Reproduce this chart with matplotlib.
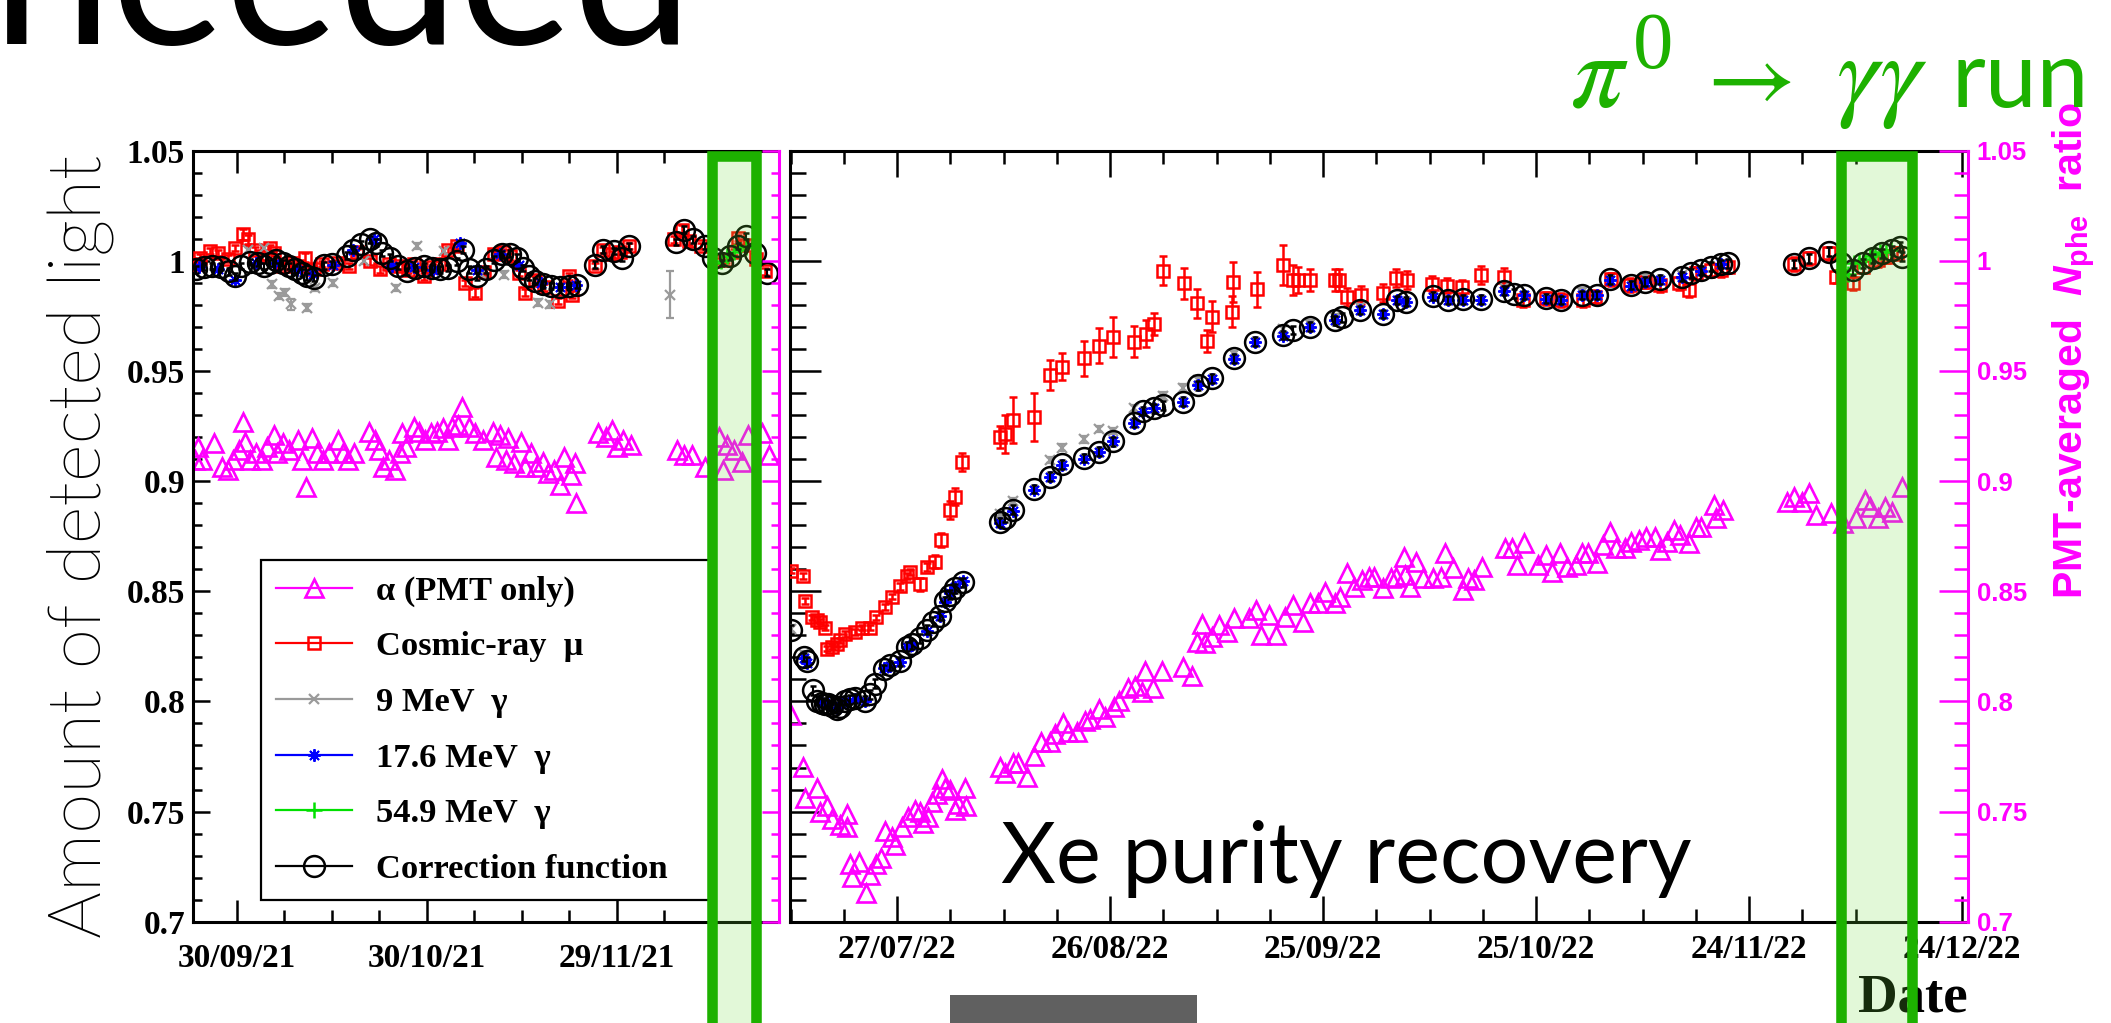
import datetime as dt
import os

import matplotlib
matplotlib.use("Agg")
import matplotlib.pyplot as plt
import matplotlib.transforms as mtransforms
import numpy as np
from matplotlib import font_manager
from matplotlib.font_manager import FontProperties
from matplotlib.lines import Line2D
from matplotlib.patches import Rectangle
from matplotlib.ticker import FuncFormatter, MultipleLocator

plt.rcParams['font.family'] = ['Liberation Serif', 'DejaVu Serif']
plt.rcParams['mathtext.rm'] = 'Liberation Sans:bold'
plt.rcParams['mathtext.it'] = 'Liberation Sans:italic:bold'
plt.rcParams['mathtext.bf'] = 'Liberation Sans:bold'

MAGENTA = '#ff00ff'
RED = '#ff0000'
GRAY = '#9a9a9a'
BLUE = '#0000ff'
LIME = '#00e000'
BAND_GREEN = '#1db100'

# reference dates, x values below are days counted from these
REF_2021 = dt.date(2021, 9, 30)
REF_2022 = dt.date(2022, 7, 27)
XLIM_2021 = (-7.0, 85.7)
XLIM_2022 = (-15.1, 150.8)

# pi0 -> gamma gamma run periods
band_2021 = (dt.date(2021, 12, 14), dt.date(2021, 12, 21))
band_2022 = (dt.date(2022, 12, 7), dt.date(2022, 12, 17))

# ---------------- 2021 run ----------------
alpha_2021 = [(-6.6, 0.9096), (-6.2, 0.9157), (-5.5, 0.9096), (-3.7, 0.9172), (-2.4, 0.9066), (-1.5, 0.9051),
              (-0.6, 0.9096), (0.3, 0.9141), (0.9, 0.9270), (1.2, 0.9179), (2.1, 0.9096), (3.0, 0.9126),
              (3.9, 0.9096), (4.8, 0.9157), (5.8, 0.9209), (6.4, 0.9126), (7.3, 0.9172), (8.2, 0.9141),
              (9.7, 0.9187), (10.3, 0.9096), (10.9, 0.8975), (11.8, 0.9194), (12.7, 0.9126), (13.6, 0.9096),
              (14.6, 0.9126), (16.0, 0.9187), (16.7, 0.9126), (17.6, 0.9096), (18.5, 0.9126), (20.9, 0.9225),
              (21.8, 0.9187), (22.5, 0.9141), (23.1, 0.9066), (24.0, 0.9096), (24.9, 0.9051), (25.8, 0.9126),
              (26.1, 0.9217), (26.7, 0.9157), (27.9, 0.9247), (28.8, 0.9225), (29.7, 0.9187), (30.7, 0.9217),
              (31.6, 0.9225), (32.5, 0.9240), (33.4, 0.9187), (34.0, 0.9247), (34.9, 0.9255), (35.6, 0.9338),
              (36.7, 0.9247), (37.6, 0.9217), (38.8, 0.9187), (40.4, 0.9225), (41.0, 0.9111), (41.6, 0.9209),
              (42.5, 0.9096), (42.8, 0.9194), (43.7, 0.9081), (44.9, 0.9179), (45.5, 0.9066), (46.4, 0.9126),
              (47.3, 0.9066), (48.3, 0.9088), (49.2, 0.9035), (50.1, 0.9051), (51.0, 0.8982), (51.6, 0.9111),
              (52.8, 0.9028), (53.4, 0.9081), (53.5, 0.8899), (57.1, 0.9217), (58.3, 0.9202), (59.2, 0.9232),
              (60.1, 0.9157), (61.0, 0.9187), (62.2, 0.9164), (69.5, 0.9141), (70.7, 0.9119), (71.9, 0.9119),
              (74.0, 0.9066), (76.2, 0.9202), (76.8, 0.9051), (77.4, 0.9164), (78.6, 0.9141), (79.8, 0.9088),
              (80.7, 0.9209), (82.9, 0.9217), (84.1, 0.9119)]

# (day, value, error)
mu_2021 = [(-6.5, 0.9985, 0.0015), (-5.9, 1.0014, 0.0015), (-4.2, 1.0044, 0.0015), (-3.0, 1.0035, 0.0015),
           (-1.5, 1.0010, 0.0015), (-0.3, 1.0059, 0.0015), (1.0, 1.0120, 0.0025), (1.7, 1.0097, 0.0020),
           (2.9, 1.0050, 0.0015), (4.0, 1.0020, 0.0015), (5.2, 1.0059, 0.0015), (5.9, 1.0036, 0.0015),
           (7.2, 0.9976, 0.0015), (8.5, 0.9990, 0.0015), (9.5, 0.9975, 0.0015), (10.8, 1.0014, 0.0020),
           (12.1, 0.9961, 0.0015), (13.5, 0.9985, 0.0015), (16.0, 0.9990, 0.0015), (17.7, 0.9976, 0.0015),
           (19.0, 1.0040, 0.0015), (21.0, 0.9998, 0.0015), (22.6, 0.9961, 0.0015), (24.0, 0.9985, 0.0015),
           (25.5, 0.9975, 0.0015), (27.0, 0.9960, 0.0015), (28.0, 0.9985, 0.0015), (29.5, 0.9930, 0.0015),
           (31.0, 0.9970, 0.0015), (32.0, 0.9985, 0.0015), (33.4, 1.0050, 0.0015), (34.7, 1.0067, 0.0015),
           (36.0, 0.9900, 0.0015), (37.6, 0.9855, 0.0020), (39.0, 0.9950, 0.0015), (40.6, 1.0029, 0.0015),
           (42.0, 1.0040, 0.0015), (43.2, 1.0021, 0.0015), (44.5, 0.9945, 0.0015), (45.5, 0.9855, 0.0015),
           (47.1, 0.9915, 0.0015), (48.5, 0.9880, 0.0015), (50.7, 0.9817, 0.0015), (52.4, 0.9930, 0.0015),
           (53.0, 0.9847, 0.0015), (56.6, 0.9976, 0.0015), (57.9, 1.0050, 0.0015), (59.2, 1.0029, 0.0015),
           (60.5, 1.0040, 0.0015), (61.9, 1.0067, 0.0015), (69.1, 1.0097, 0.0015), (70.4, 1.0142, 0.0020),
           (71.4, 1.0089, 0.0015), (73.3, 1.0067, 0.0015), (75.5, 1.0000, 0.0015), (77.2, 1.0006, 0.0015),
           (78.5, 1.0040, 0.0015), (79.2, 1.0104, 0.0015), (80.5, 1.0074, 0.0015), (82.0, 1.0010, 0.0015),
           (83.5, 0.9953, 0.0015)]

gamma9_2021 = [(1.7, 1.0050, 0.0015), (4.3, 1.0059, 0.0015), (5.6, 0.9893, 0.0015), (6.6, 0.9840, 0.0015),
               (7.6, 0.9855, 0.0015), (8.5, 0.9802, 0.0025), (11.1, 0.9787, 0.0015), (12.4, 0.9877, 0.0015),
               (15.1, 0.9900, 0.0015), (20.0, 1.0000, 0.0015), (25.2, 0.9877, 0.0015), (28.5, 1.0067, 0.0015),
               (32.7, 1.0044, 0.0015), (38.5, 0.9940, 0.0015), (42.2, 0.9938, 0.0015), (47.5, 0.9810, 0.0015),
               (49.4, 0.9802, 0.0015), (68.4, 0.9847, 0.0105)]

gamma17_2021 = [(-6.0, 0.9970), (-3.0, 0.9965), (-0.3, 0.9915), (3.0, 0.9990), (6.0, 0.9990), (9.5, 0.9960),
                (12.0, 0.9940), (15.1, 0.9980), (18.3, 1.0050), (21.6, 1.0097), (24.5, 0.9975), (28.0, 0.9970),
                (31.0, 0.9960), (35.3, 1.0082), (38.0, 0.9960), (41.5, 1.0030), (44.5, 0.9980), (48.0, 0.9900),
                (51.0, 0.9880), (53.5, 0.9890)]

gamma55_2021 = [(75.5, 0.9990), (76.5, 1.0000), (77.5, 1.0020), (78.5, 1.0040), (79.5, 1.0050), (80.5, 1.0065)]

corr_2021 = [(-6.5, 0.9961), (-5.2, 0.9973), (-3.9, 0.9976), (-2.6, 0.9973), (-1.3, 0.9953), (-0.3, 0.9930),
             (0.7, 0.9976), (2.0, 0.9994), (3.3, 0.9991), (4.3, 0.9976), (5.2, 0.9991), (6.2, 1.0003),
             (7.2, 0.9991), (8.2, 0.9976), (9.2, 0.9961), (10.2, 0.9946), (11.1, 0.9930), (12.1, 0.9923),
             (13.7, 0.9979), (15.0, 0.9985), (17.4, 1.0024), (18.3, 1.0051), (19.6, 1.0075), (21.0, 1.0097),
             (22.0, 1.0082), (22.9, 1.0036), (24.2, 1.0014), (25.5, 0.9976), (26.8, 0.9953), (28.1, 0.9968),
             (29.5, 0.9976), (30.8, 0.9968), (32.1, 0.9961), (33.4, 0.9968), (34.7, 0.9998), (35.7, 1.0051),
             (36.6, 0.9961), (38.0, 0.9930), (39.3, 0.9961), (40.6, 1.0006), (41.9, 1.0029), (43.2, 1.0033),
             (44.2, 1.0014), (45.2, 0.9968), (46.2, 0.9930), (47.1, 0.9908), (48.4, 0.9893), (49.7, 0.9885),
             (51.0, 0.9882), (52.4, 0.9885), (53.7, 0.9890), (56.6, 0.9983), (57.9, 1.0051), (59.6, 1.0044),
             (60.9, 1.0014), (61.9, 1.0067), (69.4, 1.0085), (70.7, 1.0142), (72.0, 1.0097), (73.9, 1.0067),
             (75.3, 1.0014), (76.6, 0.9991), (77.9, 1.0021), (79.2, 1.0067), (80.5, 1.0112), (81.8, 1.0036),
             (83.8, 0.9946)]
corr_err_2021 = 0.0015

# ---------------- 2022 run ----------------
alpha_2022 = [(-14.9, 0.7939), (-13.2, 0.7703), (-12.9, 0.7562), (-11.3, 0.7609), (-10.8, 0.7496), (-9.9, 0.7525),
              (-9.2, 0.7468), (-8.0, 0.7440), (-7.1, 0.7487), (-7.0, 0.7431), (-6.6, 0.7261), (-6.4, 0.7205),
              (-5.4, 0.7271), (-4.3, 0.7130), (-3.8, 0.7214), (-2.9, 0.7261), (-2.2, 0.7289), (-1.7, 0.7412),
              (-0.75, 0.7383), (-0.3, 0.7346), (0.7, 0.7431), (1.6, 0.7477), (2.5, 0.7506), (3.2, 0.7496),
              (3.7, 0.7449), (4.4, 0.7477), (4.9, 0.7543), (5.6, 0.7581), (6.3, 0.7647), (6.8, 0.7609),
              (7.5, 0.7600), (8.2, 0.7506), (8.6, 0.7534), (9.6, 0.7609), (9.7, 0.7525), (14.5, 0.7703),
              (15.2, 0.7675), (16.4, 0.7722), (17.1, 0.7722), (18.3, 0.7656), (19.3, 0.7750), (20.3, 0.7816),
              (21.5, 0.7816), (22.2, 0.7854), (23.4, 0.7901), (24.1, 0.7863), (25.3, 0.7863), (26.5, 0.7910),
              (27.2, 0.7920), (28.4, 0.7967), (29.3, 0.7929), (30.5, 0.7976), (31.2, 0.8004), (32.6, 0.8061),
              (33.5, 0.8070), (34.5, 0.8042), (34.9, 0.8136), (36.1, 0.8061), (37.3, 0.8136), (40.3, 0.8155),
              (41.5, 0.8117), (42.2, 0.8268), (42.9, 0.8353), (43.4, 0.8264), (44.4, 0.8294), (45.4, 0.8347),
              (46.5, 0.8317), (47.4, 0.8377), (49.6, 0.8377), (50.6, 0.8415), (51.3, 0.8301), (52.4, 0.8392),
              (53.4, 0.8301), (54.6, 0.8385), (55.8, 0.8438), (57.2, 0.8362), (58.2, 0.8445), (59.3, 0.8445),
              (60.3, 0.8498), (61.7, 0.8445), (62.4, 0.8475), (63.4, 0.8581), (64.4, 0.8521), (65.5, 0.8551),
              (66.5, 0.8566), (67.2, 0.8566), (68.4, 0.8513), (69.6, 0.8559), (70.3, 0.8566), (71.4, 0.8657),
              (71.6, 0.8574), (72.3, 0.8521), (73.1, 0.8634), (74.1, 0.8559), (75.5, 0.8559), (76.6, 0.8566),
              (77.2, 0.8672), (78.3, 0.8604), (79.7, 0.8506), (80.4, 0.8559), (81.3, 0.8551), (82.4, 0.8612),
              (85.6, 0.8695), (86.6, 0.8695), (87.3, 0.8619), (88.3, 0.8718), (90.3, 0.8619), (91.4, 0.8665),
              (92.3, 0.8589), (93.4, 0.8672), (94.4, 0.8612), (95.6, 0.8619), (96.5, 0.8672), (97.3, 0.8672),
              (98.6, 0.8627), (99.4, 0.8710), (100.4, 0.8771), (101.3, 0.8695), (102.5, 0.8695), (103.4, 0.8725),
              (104.5, 0.8733), (105.5, 0.8748), (106.7, 0.8748), (107.4, 0.8687), (108.4, 0.8725), (109.4, 0.8778),
              (110.3, 0.8755), (111.5, 0.8718), (112.5, 0.8793), (113.2, 0.8793), (115.0, 0.8892), (115.3, 0.8831),
              (116.3, 0.8869), (125.3, 0.8907), (126.4, 0.8930), (127.4, 0.8907), (128.5, 0.8945), (129.5, 0.8846),
              (131.6, 0.8854), (133.3, 0.8808), (135.0, 0.8831), (136.4, 0.8914), (137.1, 0.8884), (138.1, 0.8831),
              (139.2, 0.8884), (140.2, 0.8861), (141.6, 0.8975)]

mu_2022 = [(-14.9, 0.8594, 0.0012), (-13.2, 0.8569, 0.0012), (-12.9, 0.8456, 0.0012), (-12.0, 0.8381, 0.0012),
           (-11.3, 0.8371, 0.0012), (-10.8, 0.8362, 0.0012), (-10.2, 0.8334, 0.0012), (-9.9, 0.8240, 0.0012),
           (-9.2, 0.8249, 0.0012), (-8.5, 0.8259, 0.0012), (-8.0, 0.8277, 0.0012), (-7.3, 0.8306, 0.0012),
           (-5.9, 0.8315, 0.0012), (-5.0, 0.8334, 0.0012), (-3.8, 0.8334, 0.0012), (-2.9, 0.8381, 0.0012),
           (-1.7, 0.8428, 0.0012), (-0.75, 0.8475, 0.0012), (0.4, 0.8522, 0.0015), (1.4, 0.8569, 0.0015),
           (1.8, 0.8588, 0.0015), (3.2, 0.8531, 0.0030), (4.2, 0.8610, 0.0020), (5.4, 0.8635, 0.0030),
           (6.2, 0.8733, 0.0030), (7.4, 0.8870, 0.0040), (8.2, 0.8930, 0.0040), (9.2, 0.9087, 0.0040),
           (14.5, 0.9200, 0.0050), (15.2, 0.9213, 0.0085), (16.3, 0.9279, 0.0105), (19.3, 0.9290, 0.0110),
           (21.5, 0.9482, 0.0070), (23.3, 0.9520, 0.0060), (26.4, 0.9557, 0.0080), (28.4, 0.9614, 0.0080),
           (30.4, 0.9655, 0.0090), (33.4, 0.9632, 0.0070), (35.0, 0.9670, 0.0060), (36.2, 0.9714, 0.0050),
           (37.5, 0.9955, 0.0065), (40.4, 0.9898, 0.0070), (42.3, 0.9807, 0.0065), (43.6, 0.9636, 0.0050),
           (44.4, 0.9747, 0.0070), (47.3, 0.9905, 0.0090), (47.2, 0.9770, 0.0070), (50.7, 0.9871, 0.0080),
           (54.3, 0.9981, 0.0090), (55.8, 0.9913, 0.0070), (56.5, 0.9913, 0.0060), (58.2, 0.9913, 0.0050),
           (61.7, 0.9913, 0.0050), (62.2, 0.9913, 0.0050), (63.4, 0.9837, 0.0040), (65.3, 0.9845, 0.0040),
           (68.4, 0.9853, 0.0040), (70.3, 0.9921, 0.0040), (71.8, 0.9913, 0.0040), (75.4, 0.9896, 0.0035),
           (77.5, 0.9888, 0.0035), (79.6, 0.9880, 0.0035), (82.2, 0.9936, 0.0040), (85.5, 0.9928, 0.0040),
           (88.2, 0.9822, 0.0030), (91.4, 0.9830, 0.0030), (93.5, 0.9822, 0.0030), (96.6, 0.9822, 0.0030),
           (98.3, 0.9837, 0.0030), (100.6, 0.9916, 0.0030), (103.2, 0.9890, 0.0030), (105.3, 0.9905, 0.0030),
           (107.5, 0.9890, 0.0030), (110.1, 0.9898, 0.0030), (111.5, 0.9868, 0.0030), (112.5, 0.9943, 0.0030),
           (114.6, 0.9958, 0.0030), (116.0, 0.9958, 0.0030), (117.0, 0.9973, 0.0030), (126.4, 0.9986, 0.0030),
           (128.4, 1.0011, 0.0030), (131.2, 1.0034, 0.0030), (132.3, 0.9928, 0.0030), (134.7, 0.9898, 0.0030),
           (136.1, 0.9973, 0.0030), (138.1, 1.0004, 0.0030), (139.5, 1.0019, 0.0030), (140.9, 1.0034, 0.0030)]

gamma9_2022 = [(-14.9, 0.8330, 0.0015), (-13.1, 0.8215, 0.0015), (14.5, 0.8850, 0.0015), (16.4, 0.8908, 0.0015),
               (21.5, 0.9096, 0.0015), (23.3, 0.9152, 0.0015), (26.4, 0.9190, 0.0015), (28.4, 0.9237, 0.0015),
               (30.4, 0.9228, 0.0015), (33.4, 0.9331, 0.0015), (37.5, 0.9388, 0.0015), (40.3, 0.9425, 0.0015),
               (42.4, 0.9460, 0.0015), (47.4, 0.9575, 0.0015), (54.4, 0.9690, 0.0015), (58.2, 0.9715, 0.0015),
               (61.7, 0.9745, 0.0015), (65.2, 0.9790, 0.0015), (85.5, 0.9880, 0.0015), (96.5, 0.9860, 0.0015),
               (105.3, 0.9925, 0.0015), (110.5, 0.9935, 0.0015)]

gamma17_2022 = [(-13.1, 0.8195), (-12.7, 0.8175), (-10.6, 0.7995), (-9.7, 0.7990), (-8.5, 0.7970), (-7.3, 0.8000),
                (-5.9, 0.8010), (-4.5, 0.8000), (-1.9, 0.8150), (-1.0, 0.8160), (0.4, 0.8180), (1.4, 0.8245),
                (2.1, 0.8255), (4.2, 0.8320), (6.1, 0.8390), (6.8, 0.8450), (7.5, 0.8490), (8.2, 0.8520),
                (9.3, 0.8545), (14.5, 0.8810), (16.4, 0.8865), (19.3, 0.8960), (21.5, 0.9020), (23.3, 0.9075),
                (26.4, 0.9100), (28.4, 0.9130), (30.4, 0.9180), (33.4, 0.9262), (34.7, 0.9315), (36.2, 0.9330),
                (40.3, 0.9360), (42.4, 0.9435), (44.4, 0.9465), (47.4, 0.9555), (50.4, 0.9630), (54.4, 0.9660),
                (58.2, 0.9700), (61.7, 0.9730), (65.2, 0.9775), (68.4, 0.9757), (70.4, 0.9820), (71.7, 0.9813),
                (75.5, 0.9838), (77.6, 0.9820), (79.7, 0.9823), (82.3, 0.9823), (85.5, 0.9862), (88.3, 0.9843),
                (91.4, 0.9828), (93.5, 0.9820), (96.5, 0.9843), (98.6, 0.9843), (100.4, 0.9914), (103.4, 0.9888),
                (105.3, 0.9903), (107.4, 0.9914), (110.5, 0.9926), (113.2, 0.9956), (116.0, 0.9984)]

gamma55_2022 = [(133.3, 0.9960), (134.0, 0.9940), (134.8, 0.9990), (135.5, 1.0000), (136.3, 1.0010),
                (137.0, 1.0020), (137.8, 1.0030), (138.5, 1.0040), (139.3, 1.0040), (140.0, 1.0050)]

corr_2022 = [(-14.9, 0.8325), (-13.1, 0.8202), (-12.7, 0.8183), (-11.8, 0.8051), (-11.3, 0.8004), (-10.6, 0.7995),
             (-10.2, 0.7990), (-9.7, 0.7986), (-9.2, 0.7980), (-8.5, 0.7967), (-8.0, 0.7975), (-7.3, 0.8004),
             (-6.6, 0.8010), (-5.9, 0.8014), (-4.5, 0.8004), (-3.8, 0.8032), (-3.1, 0.8080), (-1.9, 0.8146),
             (-1.0, 0.8164), (0.4, 0.8183), (1.4, 0.8249), (2.1, 0.8259), (3.2, 0.8287), (4.2, 0.8325),
             (5.1, 0.8362), (6.1, 0.8390), (6.8, 0.8456), (7.5, 0.8484), (8.2, 0.8513), (9.3, 0.8541),
             (14.5, 0.8814), (15.2, 0.8833), (16.4, 0.8870), (19.3, 0.8964), (21.5, 0.9021), (23.3, 0.9077),
             (26.4, 0.9105), (28.4, 0.9134), (30.4, 0.9181), (33.4, 0.9265), (34.7, 0.9318), (36.2, 0.9331),
             (37.5, 0.9345), (40.3, 0.9360), (42.4, 0.9435), (44.4, 0.9467), (47.4, 0.9557), (50.4, 0.9633),
             (54.4, 0.9663), (55.8, 0.9686), (58.2, 0.9701), (61.7, 0.9731), (62.7, 0.9743), (65.2, 0.9777),
             (68.4, 0.9759), (70.4, 0.9822), (71.7, 0.9815), (75.5, 0.9840), (77.6, 0.9822), (79.7, 0.9825),
             (82.3, 0.9825), (85.5, 0.9865), (86.9, 0.9850), (88.3, 0.9845), (91.4, 0.9830), (93.5, 0.9822),
             (96.5, 0.9845), (98.6, 0.9845), (100.4, 0.9916), (103.4, 0.9890), (105.3, 0.9905), (107.4, 0.9916),
             (110.5, 0.9928), (111.8, 0.9943), (113.2, 0.9958), (114.6, 0.9973), (116.0, 0.9986), (117.0, 0.9989),
             (126.4, 0.9986), (128.4, 1.0011), (131.2, 1.0042), (133.0, 0.9989), (134.7, 0.9958), (136.1, 0.9989),
             (137.4, 1.0011), (138.8, 1.0034), (140.2, 1.0049), (141.2, 1.0064), (141.6, 1.0019)]
corr_err_2022 = 0.002

legend_labels = ['α (PMT only)', 'Cosmic-ray  μ', '9 MeV  γ', '17.6 MeV  γ', '54.9 MeV  γ', 'Correction function']

W, H = 2111, 1023
fig = plt.figure(figsize=(W / 100, H / 100), dpi=100)
fig.patch.set_facecolor('white')


def px_rect(x0, x1, y_top, y_bot):
    return [x0 / W, 1 - y_bot / H, (x1 - x0) / W, (y_bot - y_top) / H]


ax1 = fig.add_axes(px_rect(192.7, 779.3, 150.7, 921.7))
ax2 = fig.add_axes(px_rect(789.8, 1967.7, 150.7, 921.7))


def plot_run(ax, alpha, mu, g9, g17, g55, corr, corr_err):
    d, v = np.array(alpha).T
    ax.plot(d, v, ls='none', marker='^', ms=12.5, mfc='none', mec=MAGENTA, mew=1.9, zorder=2)
    d, v, e = np.array(mu).T
    ax.errorbar(d, v, yerr=e, fmt='s', ms=8, mfc='none', mec=RED, mew=1.8, ecolor=RED,
                elinewidth=1.8, capsize=3, capthick=1.8, zorder=3)
    d, v, e = np.array(g9).T
    ax.errorbar(d, v, yerr=e, fmt='x', ms=7, mec=GRAY, mew=1.6, ecolor=GRAY,
                elinewidth=1.6, capsize=3, capthick=1.6, zorder=3)
    d, v = np.array(g17).T
    ax.plot(d, v, ls='none', marker=(8, 2, 0), ms=9, mec=BLUE, mew=1.4, zorder=4)
    d, v = np.array(g55).T
    ax.plot(d, v, ls='none', marker='+', ms=11, mec=LIME, mew=1.8, zorder=4)
    d, v = np.array(corr).T
    ax.errorbar(d, v, yerr=corr_err, fmt='o', ms=15, mfc='none', mec='black', mew=1.8, ecolor='black',
                elinewidth=1.5, capsize=2.5, capthick=1.5, zorder=5)


plot_run(ax1, alpha_2021, mu_2021, gamma9_2021, gamma17_2021, gamma55_2021, corr_2021, corr_err_2021)
plot_run(ax2, alpha_2022, mu_2022, gamma9_2022, gamma17_2022, gamma55_2022, corr_2022, corr_err_2022)


def style_run_axes(ax, ref, xlim, ylen, xlen, rlen, xpad, right_labels):
    ax.set_xlim(*xlim)
    ax.set_ylim(0.7, 1.05)
    ax.xaxis.set_major_locator(MultipleLocator(30))
    ax.xaxis.set_minor_locator(MultipleLocator(7.5))
    ax.xaxis.set_major_formatter(FuncFormatter(
        lambda d, pos: (ref + dt.timedelta(days=int(round(d)))).strftime('%d/%m/%y')))
    ax.yaxis.set_major_locator(MultipleLocator(0.05))
    ax.yaxis.set_minor_locator(MultipleLocator(0.01))
    ax.yaxis.set_major_formatter(FuncFormatter(lambda v, pos: f'{v:g}'))
    ax.tick_params(axis='x', which='both', direction='in', top=True, width=1.8, labelsize=24, pad=xpad)
    ax.tick_params(axis='x', which='major', length=xlen[0])
    ax.tick_params(axis='x', which='minor', length=xlen[1])
    ax.tick_params(axis='y', which='both', direction='in', right=False, width=1.8, labelsize=24, pad=5.5)
    ax.tick_params(axis='y', which='major', length=ylen[0])
    ax.tick_params(axis='y', which='minor', length=ylen[1])
    if ax is ax2:
        ax.tick_params(axis='y', which='both', labelleft=False)
    for side in ('left', 'top', 'bottom'):
        ax.spines[side].set_linewidth(2.2)
    ax.spines['right'].set_visible(False)

    axr = ax.twinx()
    axr.set_ylim(0.7, 1.05)
    axr.yaxis.set_major_locator(MultipleLocator(0.05))
    axr.yaxis.set_minor_locator(MultipleLocator(0.01))
    axr.yaxis.set_major_formatter(FuncFormatter(lambda v, pos: f'{v:g}'))
    for side in ('left', 'top', 'bottom'):
        axr.spines[side].set_visible(False)
    axr.spines['right'].set_color(MAGENTA)
    axr.spines['right'].set_linewidth(2.2)
    axr.tick_params(axis='y', which='both', direction='in', color=MAGENTA, width=1.8,
                    labelright=right_labels, labelcolor=MAGENTA, labelsize=18.5,
                    labelfontfamily='Liberation Sans', pad=6.5)
    axr.tick_params(axis='y', which='major', length=rlen[0])
    axr.tick_params(axis='y', which='minor', length=rlen[1])

    # ROOT style bold tick labels
    for lbl in (ax.get_xticklabels() + ax.get_yticklabels() + axr.get_yticklabels()):
        lbl.set_fontweight('bold')
    return axr


ax1r = style_run_axes(ax1, REF_2021, XLIM_2021, (12.2, 6.5), (16, 8.6), (12.2, 5.8), 15, False)
ax2r = style_run_axes(ax2, REF_2022, XLIM_2022, (22.3, 11.3), (18.7, 9.4), (20.9, 10), 8.5, True)


def add_band(ax, ref, period):
    x0 = (period[0] - ref).days
    x1 = (period[1] - ref).days
    trans = mtransforms.blended_transform_factory(ax.transData, ax.transAxes)
    ax.add_patch(Rectangle((x0, -0.4), x1 - x0, 0.4 + 0.9931, transform=trans,
                           facecolor=(0.44, 0.87, 0.24, 0.2), edgecolor=BAND_GREEN, lw=7.6,
                           clip_on=False, zorder=10))


add_band(ax1, REF_2021, band_2021)
add_band(ax2, REF_2022, band_2022)

# legend
handles = [
    Line2D([], [], color=MAGENTA, lw=1.6, marker='^', ms=12.5, mfc='none', mec=MAGENTA, mew=1.9),
    Line2D([], [], color=RED, lw=1.6, marker='s', ms=8, mfc='none', mec=RED, mew=1.8),
    Line2D([], [], color=GRAY, lw=1.6, marker='x', ms=7, mec=GRAY, mew=1.6),
    Line2D([], [], color=BLUE, lw=1.6, marker=(8, 2, 0), ms=9, mec=BLUE, mew=1.4),
    Line2D([], [], color=LIME, lw=1.6, marker='+', ms=11, mec=LIME, mew=1.8),
    Line2D([], [], color='black', lw=1.6, marker='o', ms=15, mfc='none', mec='black', mew=1.8),
]
leg = ax1.legend(handles, legend_labels, loc='upper left', mode='expand',
                 bbox_to_anchor=(0.1164, 0.0281, 0.769, 0.441), borderaxespad=0,
                 prop=FontProperties(family='Liberation Serif', weight='bold', size=24.8),
                 handlelength=2.2, handletextpad=0.7, labelspacing=0.71, borderpad=0.45,
                 fancybox=False, framealpha=1, edgecolor='black')
leg.get_frame().set_linewidth(1.6)
leg.set_zorder(6)

# axis titles
ax2.set_xlabel('Date', fontsize=39.5, fontfamily='Liberation Serif', fontweight='bold')
ax2.xaxis.set_label_coords(1.0, -0.1167)
ax2.xaxis.label.set_ha('right')
ax2.xaxis.label.set_va('baseline')


def lato_light(size):
    for f in font_manager.fontManager.ttflist:
        base = os.path.basename(f.fname).lower()
        if base.startswith('lato') and 'light' in base and 'italic' not in base:
            return FontProperties(fname=f.fname, size=size)
    return FontProperties(family='Lato', weight='light', size=size)


fig.text(80 / W, 1 - 546 / H, 'Amount of detected light', rotation=90, ha='center', va='center',
         fontproperties=lato_light(52.5), color='black')
fig.text(2074 / W, 1 - 351 / H, r'PMT-averaged  $\mathit{N}_{\mathrm{phe}}$  ratio', rotation=90,
         ha='center', va='center', family='Liberation Sans', weight='bold', fontsize=29.5,
         color=MAGENTA, math_fontfamily='custom')

# slide texts
fig.text(-8 / W, 1 - 44 / H, 'needed', family='Lato', weight='normal', fontsize=155,
         ha='left', va='baseline', color='black')
run_base = 1 - 107 / H
fig.text(1570 / W, run_base, r'$\pi$', ha='left', va='baseline', fontsize=76, fontweight='normal',
         color=BAND_GREEN, math_fontfamily='stix')
fig.text(1633 / W, 1 - 68 / H, '0', ha='left', va='baseline', fontsize=58, fontweight='normal',
         family='Liberation Serif', color=BAND_GREEN)
fig.text(1692 / W, 1 - 106 / H, r'$\rightarrow$', ha='left', va='baseline', fontsize=70, fontweight='normal',
         color=BAND_GREEN, math_fontfamily='stix')
fig.text(1836 / W, run_base, r'$\gamma\gamma$', ha='left', va='baseline', fontsize=76, fontweight='normal',
         color=BAND_GREEN, math_fontfamily='stix')
fig.text(1952 / W, run_base, 'run', family='Lato', weight='normal', fontsize=67,
         ha='left', va='baseline', color=BAND_GREEN)
fig.text(1001 / W, 1 - 883 / H, 'Xe purity recovery', family='Lato', weight='normal', fontsize=61,
         ha='left', va='baseline', color='black')
fig.patches.append(Rectangle((949.6 / W, 0), (1197.4 - 949.6) / W, 28 / H, transform=fig.transFigure,
                             facecolor='#606060', edgecolor='none'))

fig.savefig('out.png', dpi=100)
